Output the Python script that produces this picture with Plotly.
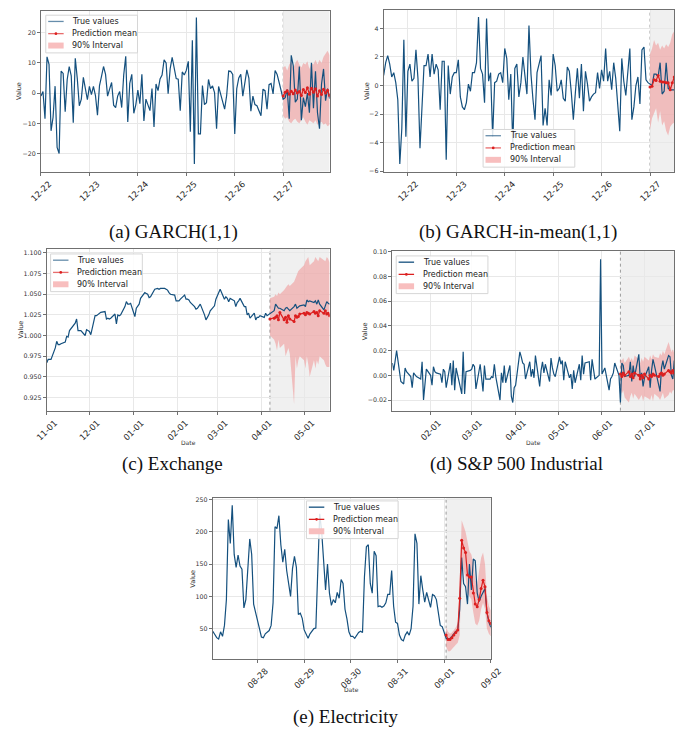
import pandas as pd
import plotly.graph_objects as go

W, H = 693, 738
def px(x): return x / W
def py(y): return 1 - y / H

BLUE = "#14507e"
RED = "#dc1f1f"
BAND = "rgba(240,120,120,0.42)"
SHADE = "#f0f0f0"
FONT = "DejaVu Sans"

# ---------------- data ----------------
# (a) GARCH(1,1) – hourly, 2022-12-22 00:00 .. 12-27 23:00
a_true = [
    -1.0, 0.5, -8.5, 12.0, 9.5, -12.5, -8.0, 2.3, -18.0, -20.0, 7.3, 6.5, -6.2, 4.5, 8.8, 5.7, -9.8, 11.5, 4.8, -4.2, -2.0, 5.2, 1.5, -2.2,
    2.2, -0.5, 2.2, -0.8, -7.3, 2.5, 5.5, 8.8, 6.2, -1.0, 1.3, 3.5, -4.0, -4.8, -1.0, 0.5, -4.8, 6.0, 12.2, -9.6, 3.2, 6.2, -6.7, -3.8,
    1.0, -3.5, 6.2, -9.2, -2.0, -4.0, -5.8, 1.5, -11.2, 3.0, 0.8, 4.7, 6.0, 11.0, 10.0, -0.2, 8.0, 11.8, 8.0, 4.8, 4.6, -5.8, 7.0, 6.0,
    7.5, 10.5, -12.8, 17.5, -23.5, 25.0, -13.5, -13.5, 2.5, -3.8, -3.2, 4.5, 1.5, 2.4, 0.2, -11.8, 2.2, -0.5, -2.8, -5.3, -0.8, 7.3, 7.2, 6.2,
    -13.5, 1.5, 5.0, 6.2, -1.0, 4.0, 7.7, 5.0, -6.0, -1.0, -3.8, -4.2, -6.2, -7.5, 1.3, 0.8, -5.3, 2.8, 3.2, -0.3, 7.5, 6.2, 3.5, 0.3,
    -2.0, -1.5, 1.2, -8.5, 12.5, 9.0, -3.0, -2.0, 8.8, -9.0, -1.5, -4.5, 0.0, -6.5, 10.0, -5.0, 7.2, -6.5, -11.8, 3.0, 8.0, -2.5, 1.5, -1.8,
]
a_mean = [-1.0, 0.3, 0.8, -0.4, 0.6, -0.2, 1.0, 0.0, 0.5, -0.8, 1.2, 0.2, 1.8, -0.4, 1.6, 0.3, 1.4, -1.0, 0.8, -0.5, 1.3, 0.0, 0.9, -0.8]
a_upper = [8.5, 9.0, 7.5, 9.5, 10.5, 8.0, 10.0, 11.0, 9.5, 8.5, 10.0, 9.5, 10.5, 8.0, 10.0, 9.5, 11.0, 9.5, 11.0, 10.0, 12.0, 13.0, 14.0, 12.5]
a_lower = [-7.5, -8.5, -8.0, -9.5, -10.0, -9.0, -8.5, -9.5, -10.0, -9.0, -8.0, -9.5, -10.5, -9.0, -9.5, -10.0, -9.0, -10.5, -10.0, -9.5, -10.5, -10.0, -11.0, -10.5]

# (b) GARCH-in-mean(1,1) – hourly, 2022-12-21 12:00 .. 12-27 12:00
b_true = [
    0.7, 1.6, 2.1, 1.5, 0.6, 0.9, 0.2, -1.0, -5.5, -3.0, 3.2, -3.6,
    1.0, 1.5, 0.3, 0.5, 2.5, 0.5, -4.4, -1.5, 1.4, 1.4, 2.2, 0.6, 2.2, 0.8, 1.5, 1.1, -1.7, 1.7, 1.7, -5.2, 1.4, -0.6, 0.6, 0.9,
    0.9, 1.8, -0.8, -1.5, -1.7, -1.2, 0.1, -0.4, 0.9, 0.9, 1.6, 4.8, 1.2, 0.8, -1.2, 4.7, 0.3, 0.9, -3.6, 0.2, 0.3, 0.8, 0.9, 0.2,
    2.6, 1.9, -1.0, 0.8, -4.3, 1.2, 1.5, -0.8, 0.2, 2.0, 0.5, -0.6, 4.2, 0.8, -1.0, -2.4, 0.9, 1.5, 2.1, -2.8, -1.6, -2.8, 0.4, -0.7,
    2.2, 1.4, -0.4, -0.2, 0.4, -0.9, -1.1, 1.3, 1.0, -0.5, -2.4, -0.5, 1.2, -0.9, 1.5, -1.8, 1.0, 0.1, -1.1, -0.8, -0.6, -0.5, 0.9, -0.2,
    1.1, 0.3, 2.6, 0.3, 1.0, -0.3, 1.6, 0.5, -1.5, -3.2, 1.9, 0.3, -0.7, 1.3, 2.6, -2.4, -1.5, 0.0, 0.6, -1.3, 2.5, 2.7, 0.4, 0.2,
    0.1, 0.0, 0.8, 0.8, 0.6, 1.6, -0.6, -0.4, 1.6, -0.2, -0.3, -0.3, -0.3,
]
b_mean = [-0.1, -0.05, 0.4, 0.35, 0.7, 0.3, 0.25, 0.25, 0.2, 0.2, -0.3, 0.2, 0.6]
b_upper = [2.2, 2.6, 3.2, 2.8, 3.0, 2.5, 2.8, 2.6, 2.9, 2.7, 3.0, 3.6, 3.8]
b_lower = [-3.1, -2.3, -2.0, -1.6, -2.6, -1.8, -2.8, -2.5, -3.2, -3.5, -2.9, -2.7, -2.6]

# (c) Exchange – business days, 2016-11-01 .. 2017-05-19
c_true = [
    0.967, 0.971, 0.971, 0.971,
    0.985, 0.993, 0.989, 0.989, 0.990,
    0.992, 0.999, 0.998, 1.006, 1.008,
    1.015, 1.020, 1.006, 1.006, 1.006,
    1.000, 1.007, 1.006, 1.005, 1.001,
    1.024, 1.024, 1.025, 1.027, 1.028,
    1.029, 1.020, 1.021, 1.020, 1.021,
    1.026, 1.014, 1.025, 1.024, 1.025,
    1.035, 1.041, 1.038, 1.038, 1.039,
    1.023, 1.033, 1.036, 1.038, 1.045,
    1.052, 1.051, 1.050, 1.046, 1.047,
    1.056, 1.057, 1.057, 1.056, 1.057,
    1.057, 1.056, 1.055, 1.052, 1.050,
    1.049, 1.042, 1.042, 1.042, 1.044,
    1.049, 1.044, 1.044, 1.043, 1.040,
    1.035, 1.032, 1.033, 1.036, 1.038,
    1.025, 1.019, 1.022, 1.025, 1.030,
    1.036, 1.044, 1.048, 1.052, 1.056,
    1.044, 1.047, 1.045, 1.041, 1.045,
    1.042, 1.035, 1.040, 1.042, 1.045,
    1.035, 1.035, 1.025, 1.027, 1.021,
    1.027, 1.019, 1.022, 1.022, 1.024,
    1.022, 1.027, 1.024, 1.025, 1.026,
    1.030, 1.038, 1.035, 1.033, 1.033,
    1.030, 1.033, 1.034, 1.032, 1.030,
    1.035, 1.038, 1.033, 1.034, 1.036,
    1.037, 1.035, 1.043, 1.041, 1.042,
    1.040, 1.042, 1.038, 1.043, 1.038,
    1.031, 1.037, 1.041, 1.039, 1.038,
]
c_mean = [1.020, 1.021, 1.022, 1.024, 1.019, 1.028, 1.019, 1.022, 1.016, 1.024, 1.020, 1.017, 1.024, 1.022, 1.023, 1.026,
          1.027, 1.025, 1.028, 1.027, 1.026, 1.029, 1.027, 1.028, 1.024, 1.030, 1.027, 1.030, 1.026, 1.027, 1.024]
c_upper = [1.045, 1.047, 1.050, 1.048, 1.052, 1.050, 1.055, 1.058, 1.060, 1.062, 1.060, 1.065, 1.070, 1.075, 1.078, 1.080,
           1.085, 1.090, 1.092, 1.095, 1.085, 1.090, 1.095, 1.093, 1.090, 1.095, 1.092, 1.090, 1.095, 1.093, 1.088]
c_lower = [1.000, 0.995, 0.990, 0.982, 0.995, 0.985, 0.990, 0.975, 0.980, 0.985, 0.978, 0.917, 0.975, 0.960, 0.970, 0.975,
           0.970, 0.960, 0.975, 0.965, 0.950, 0.970, 0.960, 0.970, 0.965, 0.975, 0.970, 0.965, 0.962, 0.962, 0.962]

# (d) S&P 500 Industrial – business days, 2016-01-05 .. 2016-07-22
d_true = [
    0.010, 0.004, 0.012, 0.020, -0.005, -0.006, -0.007, 0.006, 0.003, -0.001, -0.010, 0.002, 0.000, -0.001, -0.003, 0.011, -0.020, -0.009, 0.005,
    0.000, -0.008, 0.007, 0.003, 0.002, 0.001, -0.006, 0.005, 0.003, -0.010, 0.010, -0.008, 0.012, -0.012, 0.006, -0.009, -0.015, 0.019, -0.015, 0.003, 0.004,
    0.005, 0.009, 0.007, -0.011, 0.009, -0.002, -0.013, 0.008, -0.003, -0.003, -0.001, -0.002, 0.009, -0.001, -0.020, 0.002, -0.006, 0.008, -0.006, 0.008, -0.017, -0.022, -0.010,
    -0.008, 0.019, 0.015, 0.010, 0.009, -0.003, 0.011, -0.001, 0.005, -0.002, 0.016, -0.009, 0.004, 0.011, 0.002, 0.009, -0.005, 0.014, 0.006, 0.001, -0.001,
    0.015, 0.009, 0.012, -0.004, 0.011, -0.002, 0.001, -0.011, 0.004, -0.006, 0.009, -0.004, 0.016, 0.001, 0.010, 0.011, -0.004, 0.013, 0.004, -0.003, 0.000, 0.094,
    0.001, 0.004, 0.006, -0.012, -0.003, -0.001, 0.002, 0.010, 0.000,
    -0.022, 0.010, 0.008, -0.001, 0.000, 0.011, -0.005, 0.008, -0.001, 0.017, -0.003, 0.002, -0.009, -0.002, 0.007,
    -0.010, 0.004, 0.013, 0.008, -0.006, -0.013, 0.006, 0.012, 0.005, 0.016, 0.015, 0.000, -0.003, 0.012,
]
d_mean = [0.001, -0.001, 0.002, 0.000, 0.003, -0.001, 0.001, -0.002, 0.002, 0.000, -0.003, 0.000, -0.002, 0.001, -0.003,
          0.000, -0.001, 0.001, 0.000, -0.001, 0.001, 0.002, 0.000, 0.001, 0.004, 0.003, 0.002, 0.004, 0.002]
d_upper = [0.013, 0.012, 0.014, 0.010, 0.015, 0.012, 0.014, 0.011, 0.016, 0.013, 0.010, 0.014, 0.011, 0.015, 0.012,
           0.016, 0.013, 0.017, 0.015, 0.014, 0.018, 0.016, 0.020, 0.017, 0.027, 0.022, 0.019, 0.021, 0.018]
d_lower = [-0.010, -0.015, -0.012, -0.018, -0.022, -0.017, -0.014, -0.019, -0.015, -0.020, -0.018, -0.016, -0.021, -0.017, -0.019,
           -0.020, -0.016, -0.021, -0.015, -0.018, -0.020, -0.017, -0.014, -0.019, -0.016, -0.013, -0.015, -0.012, -0.012]

# (e) Electricity – hourly, 2022-08-27 01:00 .. 09-02 00:00
e_true = [
    46, 40, 36, 34, 45, 38, 55, 95, 219, 182, 241, 165, 145, 164, 147, 142, 82, 95, 152, 189, 165, 88, 75,
    60, 50, 37, 36, 42, 45, 47, 55, 90, 208, 205, 225, 180, 153, 173, 140, 120, 100, 143, 162, 145, 72, 74, 66,
    48, 40, 35, 42, 47, 50, 51, 130, 228, 200, 160, 110, 150, 105, 86, 95, 90, 106, 97, 126, 120, 80, 65, 45,
    38, 38, 35, 40, 44, 46, 44, 130, 177, 180, 120, 105, 170, 163, 84, 85, 83, 85, 90, 103, 103, 140, 85, 60,
    58, 40, 33, 31, 40, 45, 40, 50, 85, 197, 182, 88, 132, 110, 91, 106, 95, 83, 103, 101, 95, 72, 55, 53,
    45,
    35, 34, 35, 38, 42, 46, 47, 80, 160, 120, 115, 88, 150, 110, 158, 155, 105, 92, 100, 105, 112, 75, 60, 52,
]
e_mean = [40, 33, 33, 36, 40, 44, 48, 97, 187, 175, 168, 133, 130, 130, 105, 88, 84, 95, 112, 125, 115, 75, 62, 58]
e_upper = [52, 45, 42, 44, 48, 52, 58, 120, 218, 210, 200, 185, 170, 165, 150, 125, 118, 140, 160, 168, 150, 100, 85, 78]
e_lower = [22, 15, 15, 18, 22, 25, 28, 40, 150, 140, 130, 105, 100, 95, 75, 58, 55, 62, 80, 90, 80, 50, 42, 38]

# ---------------- panels ----------------
panels = [
    dict(key="", true=a_true, mean=a_mean, up=a_upper, lo=a_lower,
         dates=pd.date_range("2022-12-22 00:00", periods=len(a_true), freq="h"),
         xdom=(30, 329), ydom=(8, 170), yrange=[-26.0, 27.2], ydtick=10, yfmt="",
         dtick=86400000, tick0="2022-12-22", legend=(35, 12.3), leg_alpha=0.65,
         value_x=8, date_y=None, caption="(a) GARCH(1,1)", cap=(167, 231)),
    dict(key="2", true=b_true, mean=b_mean, up=b_upper, lo=b_lower,
         dates=pd.date_range("2022-12-21 12:00", periods=len(b_true), freq="h"),
         xdom=(385, 686), ydom=(7, 170), yrange=[-6.04, 5.3], ydtick=2, yfmt="",
         dtick=86400000, tick0="2022-12-22", legend=(488, 127.5), leg_alpha=0.65,
         value_x=367, date_y=None, caption="(b) GARCH-in-mean(1,1)", cap=(524, 231)),
    dict(key="3", true=c_true, mean=c_mean, up=c_upper, lo=c_lower,
         dates=pd.bdate_range("2016-11-01", periods=len(c_true)),
         xdom=(36, 329), ydom=(248, 411), yrange=[0.909, 1.1048], ydtick=0.025, yfmt=".3f",
         dtick="M1", tick0="2016-11-01", legend=(40, 253), leg_alpha=0.65,
         value_x=9, date_y=443, caption="(c) Exchange", cap=(166, 465)),
    dict(key="4", true=d_true, mean=d_mean, up=d_upper, lo=d_lower,
         dates=pd.bdate_range("2016-01-05", periods=len(d_true)),
         xdom=(394, 686), ydom=(250.3, 411), yrange=[-0.0286, 0.1005], ydtick=0.02, yfmt=".2f",
         dtick="M1", tick0="2016-01-01", legend=(398, 255), leg_alpha=1.0,
         value_x=366, date_y=443, caption="(d) S&P 500 Industrial", cap=(523, 465)),
    dict(key="5", true=e_true, mean=e_mean, up=e_upper, lo=e_lower,
         dates=pd.date_range("2022-08-27 01:00", periods=len(e_true), freq="h"),
         xdom=(208, 496), ydom=(499, 661), yrange=[3.5, 252.5], ydtick=50, yfmt="",
         dtick=86400000, tick0="2022-08-28", legend=(305, 502), leg_alpha=1.0,
         value_x=188, date_y=692, caption="(e) Electricity", cap=(345, 720)),
]

fig = go.Figure()
shapes, annotations = [], []
layout = dict(width=W, height=H, margin=dict(l=0, r=0, t=0, b=0),
              paper_bgcolor="white", plot_bgcolor="white", showlegend=False,
              font=dict(family=FONT, color="#262626"))

for p in panels:
    k = p["key"]
    xa, ya = "x" + k, "y" + k
    dates = list(p["dates"])
    fdates = dates[-len(p["mean"]):]
    f0, f1 = fdates[0], dates[-1]

    # shaded forecast region + dotted start line
    shapes.append(dict(type="rect", xref=xa, yref=ya + " domain", x0=f0, x1=f1, y0=0, y1=1,
                       fillcolor=SHADE, line=dict(width=0), layer="below"))
    shapes.append(dict(type="line", xref=xa, yref=ya + " domain", x0=f0, x1=f0, y0=0, y1=1,
                       line=dict(color="#9a9a9a", width=1, dash="dot"), layer="below"))

    fig.add_trace(go.Scatter(x=fdates + fdates[::-1], y=p["up"] + p["lo"][::-1], fill="toself",
                             fillcolor=BAND, line=dict(width=0), mode="lines", hoverinfo="skip",
                             name="90% Interval", xaxis=xa, yaxis=ya))
    fig.add_trace(go.Scatter(x=dates, y=p["true"], mode="lines", line=dict(color=BLUE, width=1.2),
                             name="True values", xaxis=xa, yaxis=ya))
    fig.add_trace(go.Scatter(x=fdates, y=p["mean"], mode="lines+markers",
                             line=dict(color=RED, width=1.2), marker=dict(color=RED, size=3),
                             name="Prediction mean", xaxis=xa, yaxis=ya))

    xd, yd = p["xdom"], p["ydom"]
    layout["xaxis" + k] = dict(
        domain=[px(xd[0]), px(xd[1])], anchor=ya, type="date", range=[dates[0], dates[-1]],
        tickformat="%m-%d", dtick=p["dtick"], tick0=p["tick0"], tickangle=-45, ticklabelshift=8,
        tickfont=dict(size=8.5, family=FONT, color="#262626"),
        showgrid=True, gridcolor="#e8e8e8", gridwidth=1, zeroline=False,
        showline=True, linecolor="#707070", linewidth=1, mirror=True,
        ticks="outside", ticklen=3, tickcolor="#707070")
    layout["yaxis" + k] = dict(
        domain=[py(yd[1]), py(yd[0])], anchor=xa, range=p["yrange"], dtick=p["ydtick"],
        tickformat=p["yfmt"], tickfont=dict(size=6.3, family=FONT, color="#333333"),
        showgrid=True, gridcolor="#e8e8e8", gridwidth=1, zeroline=False,
        showline=True, linecolor="#707070", linewidth=1, mirror=True,
        ticks="outside", ticklen=3, tickcolor="#707070")

    # axis labels
    annotations.append(dict(text="Value", x=px(p["value_x"]), y=py((yd[0] + yd[1]) / 2), xref="paper",
                            yref="paper", showarrow=False, textangle=-90, xanchor="center",
                            yanchor="middle", font=dict(size=6.5, family=FONT, color="#333333")))
    if p["date_y"] is not None:
        annotations.append(dict(text="Date", x=px((xd[0] + xd[1]) / 2), y=py(p["date_y"]), xref="paper",
                                yref="paper", showarrow=False, xanchor="center", yanchor="middle",
                                font=dict(size=6, family=FONT, color="#333333")))
    # caption
    annotations.append(dict(text=p["caption"], x=px(p["cap"][0]), y=py(p["cap"][1]), xref="paper",
                            yref="paper", showarrow=False, xanchor="center", yanchor="middle",
                            font=dict(size=19, family="Liberation Serif", color="#111111")))

    # legend box (drawn)
    lx, ly = p["legend"]
    lw, lh = 95, 38
    al = p["leg_alpha"]
    shapes.append(dict(type="rect", xref="paper", yref="paper", x0=px(lx), x1=px(lx + lw),
                       y0=py(ly + lh), y1=py(ly), fillcolor="rgba(255,255,255,0.85)",
                       line=dict(color="#d6d6d6", width=1), layer="above"))
    rows = [ly + 6.3, ly + 18.6, ly + 30.6]
    s0, s1 = lx + 2.5, lx + 18.5
    shapes.append(dict(type="line", xref="paper", yref="paper", x0=px(s0), x1=px(s1),
                       y0=py(rows[0]), y1=py(rows[0]), layer="above",
                       line=dict(color=f"rgba(20,80,126,{al})", width=1.3)))
    shapes.append(dict(type="line", xref="paper", yref="paper", x0=px(s0), x1=px(s1),
                       y0=py(rows[1]), y1=py(rows[1]), layer="above",
                       line=dict(color=f"rgba(220,31,31,{al})", width=1.3)))
    cx = (s0 + s1) / 2
    shapes.append(dict(type="circle", xref="paper", yref="paper", x0=px(cx - 1.4), x1=px(cx + 1.4),
                       y0=py(rows[1] + 1.4), y1=py(rows[1] - 1.4), layer="above",
                       fillcolor=RED, line=dict(width=0)))
    shapes.append(dict(type="rect", xref="paper", yref="paper", x0=px(s0), x1=px(s1),
                       y0=py(rows[2] + 3), y1=py(rows[2] - 3), layer="above",
                       fillcolor="rgba(248,190,190,1)", line=dict(width=0)))
    for txt, ry in zip(["True values", "Prediction mean", "90% Interval"], rows):
        annotations.append(dict(text=txt, x=px(lx + 25.5), y=py(ry), xref="paper", yref="paper",
                                showarrow=False, xanchor="left", yanchor="middle",
                                font=dict(size=8, family=FONT, color="#1a1a1a")))

layout["shapes"] = shapes
layout["annotations"] = annotations
fig.update_layout(**layout)
fig.write_html("out.html")
